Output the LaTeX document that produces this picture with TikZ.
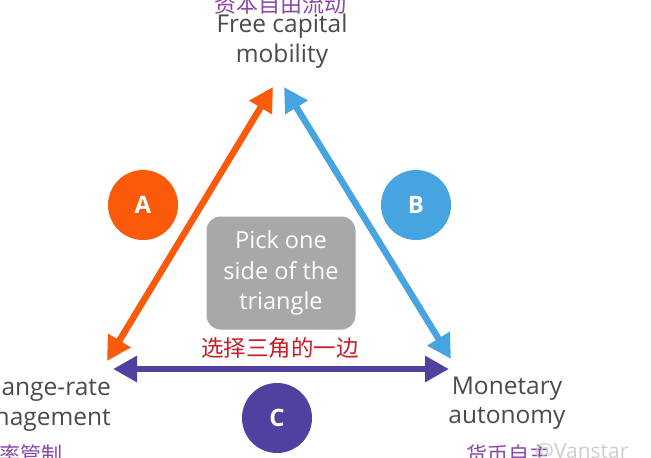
\documentclass[tikz,border=0pt]{standalone}
\usepackage{fontspec}
\setmainfont{Open Sans}
\newfontfamily\cjkfont{Noto Sans CJK SC}
\usetikzlibrary{
  arrows.meta
}
\definecolor{capitalcolor}{RGB}{250, 90, 10}
\definecolor{monetarycolor}{RGB}{70, 165, 225}
\definecolor{exchangecolor}{RGB}{80, 65, 160}
\definecolor{cornercolor}{RGB}{75, 75, 75}
\definecolor{cjkcolor}{RGB}{140, 70, 170}
\definecolor{pickcolor}{RGB}{168, 168, 168}
\definecolor{choosecolor}{RGB}{200, 30, 40}
\definecolor{markcolor}{RGB}{205, 205, 210}
\tikzset{
cornertext/.style={
  font=\fontsize{24.5}{29.5}\selectfont,
  text=cornercolor,
  align=center,
  inner sep=0pt
},
cjktext/.style={
  font=\cjkfont\fontsize{21}{24}\selectfont,
  text=cjkcolor,
  inner sep=0pt
},
sidearrow/.style={
  {Triangle[length=24pt,width=25pt]}-{Triangle[length=24pt,width=25pt]},
  line width=6.5pt
},
sidebadge/.style={
  circle,
  minimum size=70pt,
  inner sep=0pt,
  text=white,
  font=\bfseries\fontsize{24}{24}\selectfont
},
pickbox/.style={
  rounded corners=14pt,
  fill=pickcolor,
  text=white,
  minimum width=149pt,
  minimum height=113pt,
  align=center,
  font=\fontsize{23.5}{30.5}\selectfont
}
}
\begin{document}
\begin{tikzpicture}[x=1pt,y=-1pt]
  \useasboundingbox (0,0) rectangle (651,458);
  \clip (0,0) rectangle (651,458);
  \fill[white] (0,0) rectangle (651,458);

  % corners of the triangle
  \coordinate (capitalleft) at (273,87);
  \coordinate (capitalright) at (284,87);
  \coordinate (exchangeup) at (107,361);
  \coordinate (exchangeside) at (113,369);
  \coordinate (monetaryup) at (451,359);
  \coordinate (monetaryside) at (449,369);

  % sides
  \draw[sidearrow, draw=capitalcolor, fill=capitalcolor] (exchangeup) -- (capitalleft);
  \draw[sidearrow, draw=monetarycolor, fill=monetarycolor] (capitalright) -- (monetaryup);
  \draw[sidearrow, draw=exchangecolor, fill=exchangecolor] (exchangeside) -- (monetaryside);

  % badges
  \node[sidebadge, fill=capitalcolor] (badgeA) at (143,205) {A};
  \node[sidebadge, fill=monetarycolor] (badgeB) at (416,205) {B};
  \node[sidebadge, fill=exchangecolor] (badgeC) at (277,418) {C};

  % middle
  \node[pickbox] (pick) at (281,273) {Pick one\\side of the\\triangle};
  \node[cjktext, text=choosecolor, font=\cjkfont\fontsize{22.5}{24}\selectfont] (choose) at (280,348) {选择三角的一边};

  % corner labels
  \node[cjktext, font=\cjkfont\fontsize{22}{24}\selectfont] (capitalcn) at (280,4) {资本自由流动};
  \node[cornertext] (capital) at (282,41) {Free capital\\mobility};
  \node[cornertext, anchor=east, align=right] (exchange) at (111,404) {Exchange-rate\\management};
  \node[cjktext, anchor=east] (exchangecn) at (63,454) {汇率管制};
  \node[cornertext] (monetary) at (507,403) {Monetary\\autonomy};
  \node[cjktext, anchor=west] (monetarycn) at (466,454) {货币自主};
  \node[text=markcolor, font=\fontsize{21}{24}\selectfont, anchor=west, inner sep=0pt] (mark) at (535,452) {@Vanstar};
\end{tikzpicture}
\end{document}
